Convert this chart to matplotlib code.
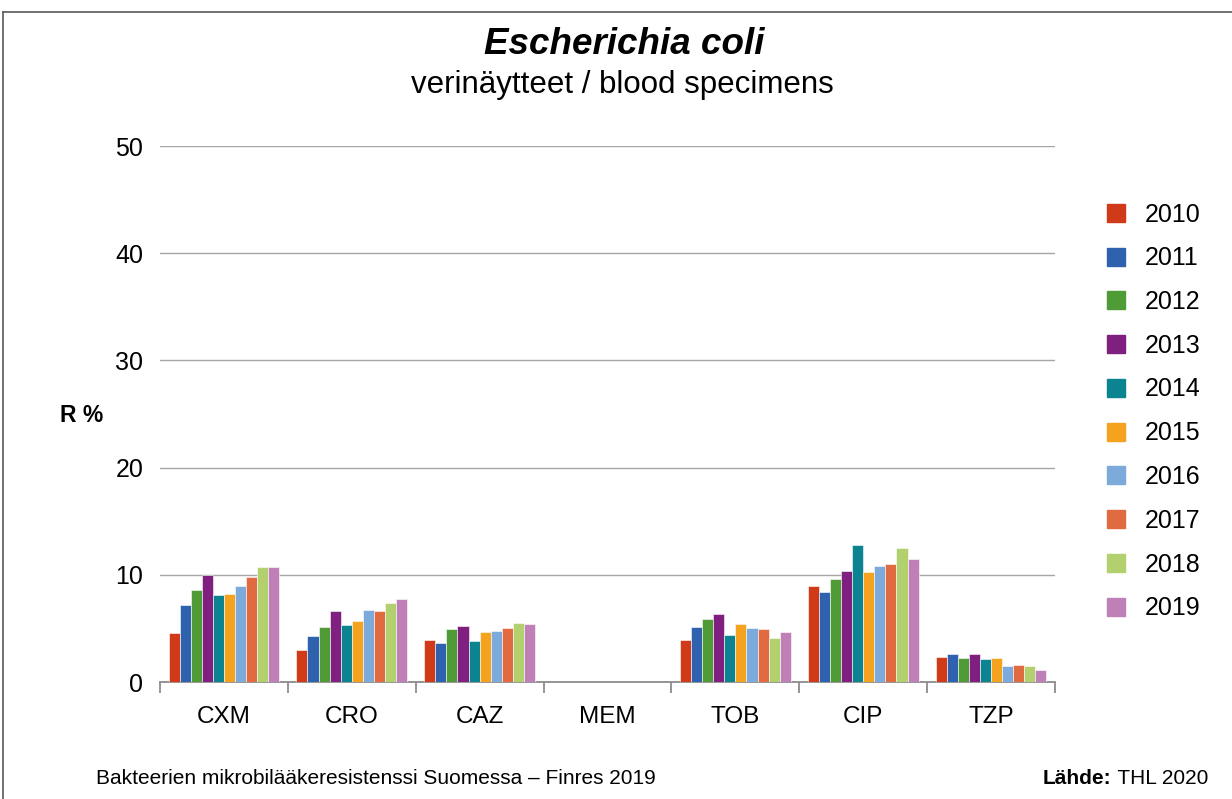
import matplotlib.pyplot as plt
import numpy as np
from matplotlib.lines import Line2D

plt.rcParams['font.family'] = ['Liberation Sans', 'DejaVu Sans']

# antibiootit / vuodet
categories = ["CXM", "CRO", "CAZ", "MEM", "TOB", "CIP", "TZP"]
years = ["2010", "2011", "2012", "2013", "2014", "2015", "2016", "2017", "2018", "2019"]
colors = ["#D13A19", "#2E62AE", "#4F9B36", "#7F1F7F", "#0B8390",
          "#F5A21F", "#7BAADB", "#E06B40", "#B3D06E", "#BE80B7"]

# R % per antibiootti, yksi lista per vuosi (järjestys = categories)
r2010 = [4.6, 3.0, 3.9, 0.0, 3.9, 9.0, 2.3]
r2011 = [7.2, 4.3, 3.6, 0.0, 5.1, 8.4, 2.6]
r2012 = [8.6, 5.1, 4.9, 0.0, 5.9, 9.6, 2.2]
r2013 = [10.0, 6.6, 5.2, 0.0, 6.3, 10.4, 2.6]
r2014 = [8.1, 5.3, 3.8, 0.0, 4.4, 12.8, 2.1]
r2015 = [8.2, 5.7, 4.7, 0.0, 5.4, 10.3, 2.2]
r2016 = [9.0, 6.7, 4.8, 0.0, 5.0, 10.8, 1.5]
r2017 = [9.8, 6.6, 5.0, 0.0, 4.9, 11.0, 1.6]
r2018 = [10.7, 7.4, 5.5, 0.0, 4.1, 12.5, 1.5]
r2019 = [10.7, 7.7, 5.4, 0.0, 4.7, 11.5, 1.1]
resultats = [r2010, r2011, r2012, r2013, r2014, r2015, r2016, r2017, r2018, r2019]

fig = plt.figure(figsize=(12.32, 7.99), dpi=100)
ax = fig.add_axes([160/1232, 1-682/799, (1055-160)/1232, (682-146)/799])

x = np.arange(len(categories))
w = 0.867/len(years)
for i in range(len(years)):
    ax.bar(x - 0.867/2 + w*(i+0.5), resultats[i], width=w, color=colors[i],
           edgecolor='#FFFFFF', linewidth=0.4, zorder=3, label=years[i])

ax.set_xlim(-0.5, len(categories)-0.5)
ax.set_ylim(0, 50)
ax.set_yticks([0, 10, 20, 30, 40, 50])
ax.yaxis.grid(True, color='#A6A6A6', linewidth=1.0, zorder=0)
for s in ['top', 'right', 'left']:
    ax.spines[s].set_visible(False)
ax.spines['bottom'].set_color('#8C8C8C')
ax.spines['bottom'].set_linewidth(1.3)
ax.tick_params(axis='y', length=0, labelsize=18, pad=12, labelcolor='#000000')
# ticks between categories, labels at centres
ax.set_xticks(np.arange(-0.5, len(categories)), minor=False)
ax.set_xticklabels([])
ax.tick_params(axis='x', which='major', length=8, width=1.3, color='#8C8C8C', direction='out')
ax.set_xticks(x, minor=True)
ax.set_xticklabels(categories, minor=True, fontsize=17.5)
ax.tick_params(axis='x', which='minor', length=0, pad=17)

fig.text(82/1232, 1-416/799, "R %", fontsize=16.5, fontweight='bold', ha='center', va='center')

fig.text(624/1232, 1-44/799, "Escherichia coli", fontsize=26.5, fontweight='bold', fontstyle='italic',
         ha='center', va='center')
fig.text(622/1232, 1-85/799, "verinäytteet / blood specimens", fontsize=22.5, ha='center', va='center')

handles = [Line2D([0], [0], marker='s', linestyle='none', markersize=13,
                  markerfacecolor=colors[i], markeredgecolor=colors[i]) for i in range(len(years))]
fig.legend(handles, years, loc='upper left', bbox_to_anchor=(1103.5/1232, 1-202.5/799),
           frameon=False, fontsize=18, labelspacing=0.79, handletextpad=0.65, handlelength=1.0,
           borderpad=0, borderaxespad=0)

fig.text(96/1232, 1-778/799, "Bakteerien mikrobilääkeresistenssi Suomessa – Finres 2019",
         fontsize=15, ha='left', va='center')
t2 = fig.text(1208/1232, 1-778/799, " THL 2020", fontsize=15, ha='right', va='center')
r = fig.canvas.get_renderer()
bb = t2.get_window_extent(renderer=r)
fig.text(bb.x0/1232, 1-778/799, "Lähde:", fontsize=15, fontweight='bold', ha='right', va='center')

# kehys
fig.add_artist(Line2D([3/1232, 3/1232], [0, 1-12/799], color='#595959', linewidth=1.2))
fig.add_artist(Line2D([3/1232, 1], [1-12/799, 1-12/799], color='#595959', linewidth=1.2))

plt.savefig("out.png", dpi=100)
